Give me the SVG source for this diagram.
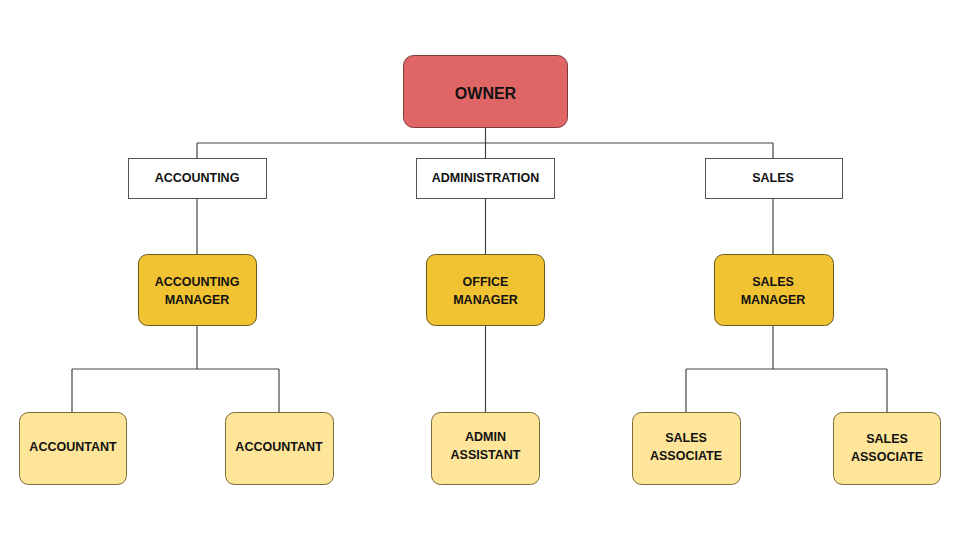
<svg xmlns="http://www.w3.org/2000/svg" width="960" height="540" viewBox="0 0 960 540">
<style>
text{font-family:"Liberation Sans",Arial,sans-serif;font-weight:bold;font-size:12.5px;fill:#111;text-anchor:middle;dominant-baseline:central}
.owner{fill:#e06666;stroke:#7a3b3b;stroke-width:1}
.dept{fill:#ffffff;stroke:#555;stroke-width:1}
.mgr{fill:#f1c232;stroke:#6b5a1e;stroke-width:1}
.staff{fill:#ffe599;stroke:#7a6a35;stroke-width:1}
.conn line{stroke:#444;stroke-width:1.2}
</style>
<rect width="960" height="540" fill="#ffffff"/>
<g class="conn" id="connectors">
<line x1="485.5" y1="127" x2="485.5" y2="158"/>
<line x1="197" y1="143" x2="773" y2="143"/>
<line x1="197" y1="143" x2="197" y2="158"/>
<line x1="773" y1="143" x2="773" y2="158"/>
<line x1="197" y1="198" x2="197" y2="254"/>
<line x1="485.5" y1="198" x2="485.5" y2="254"/>
<line x1="773" y1="198" x2="773" y2="254"/>
<line x1="197" y1="325" x2="197" y2="369"/>
<line x1="72" y1="369" x2="279" y2="369"/>
<line x1="72" y1="369" x2="72" y2="412"/>
<line x1="279" y1="369" x2="279" y2="412"/>
<line x1="485.5" y1="325" x2="485.5" y2="412"/>
<line x1="773" y1="325" x2="773" y2="369"/>
<line x1="686" y1="369" x2="887" y2="369"/>
<line x1="686" y1="369" x2="686" y2="412"/>
<line x1="887" y1="369" x2="887" y2="412"/>
</g>
<g id="owner"><rect class="owner" x="403.5" y="55.5" width="164" height="72" rx="10"/><text x="485.5" y="93" style="font-size:16px">OWNER</text></g>
<g id="accounting"><rect class="dept" x="128.5" y="158.5" width="138" height="40"/><text x="197" y="178">ACCOUNTING</text></g>
<g id="administration"><rect class="dept" x="416.5" y="158.5" width="138" height="40"/><text x="485.5" y="178">ADMINISTRATION</text></g>
<g id="sales"><rect class="dept" x="705.5" y="158.5" width="137" height="40"/><text x="773" y="178">SALES</text></g>
<g id="accounting-manager"><rect class="mgr" x="138.5" y="254.5" width="118" height="71" rx="9"/><text x="197" y="282">ACCOUNTING</text><text x="197" y="300">MANAGER</text></g>
<g id="office-manager"><rect class="mgr" x="426.5" y="254.5" width="118" height="71" rx="9"/><text x="485.5" y="282">OFFICE</text><text x="485.5" y="300">MANAGER</text></g>
<g id="sales-manager"><rect class="mgr" x="714.5" y="254.5" width="119" height="71" rx="9"/><text x="773" y="282">SALES</text><text x="773" y="300">MANAGER</text></g>
<g id="accountant-1"><rect class="staff" x="19.5" y="412.5" width="107" height="72" rx="9"/><text x="73" y="447">ACCOUNTANT</text></g>
<g id="accountant-2"><rect class="staff" x="225.5" y="412.5" width="108" height="72" rx="9"/><text x="279" y="447">ACCOUNTANT</text></g>
<g id="admin-assistant"><rect class="staff" x="431.5" y="412.5" width="108" height="72" rx="9"/><text x="485.5" y="437">ADMIN</text><text x="485.5" y="455">ASSISTANT</text></g>
<g id="sales-associate-1"><rect class="staff" x="632.5" y="412.5" width="108" height="72" rx="9"/><text x="686" y="438">SALES</text><text x="686" y="456">ASSOCIATE</text></g>
<g id="sales-associate-2"><rect class="staff" x="833.5" y="412.5" width="107" height="72" rx="9"/><text x="887" y="439">SALES</text><text x="887" y="457">ASSOCIATE</text></g>
</svg>
